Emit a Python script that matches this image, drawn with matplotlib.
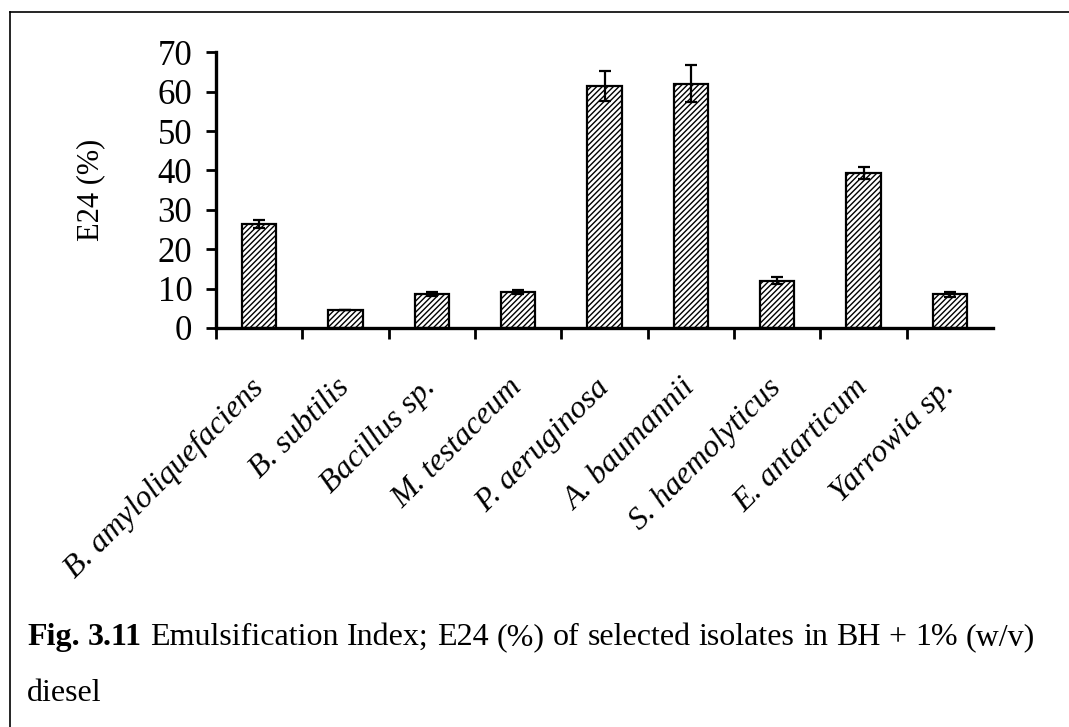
import numpy as np
import matplotlib
matplotlib.use("Agg")
import matplotlib.pyplot as plt
from matplotlib.lines import Line2D

plt.rcParams["font.family"] = ["Liberation Serif", "DejaVu Serif"]
plt.rcParams["hatch.linewidth"] = 1.0
plt.rcParams["hatch.color"] = "#333333"

# Данные
isolates = ["B. amyloliquefaciens", "B. subtilis", "Bacillus sp.", "M. testaceum",
            "P. aeruginosa", "A. baumannii", "S. haemolyticus", "E. antarticum",
            "Yarrowia sp."]
e24 = [26.3, 4.5, 8.6, 9.1, 61.5, 62.0, 12.0, 39.3, 8.5]
e24_err = [1.0, 0.0, 0.6, 0.6, 3.8, 4.7, 0.8, 1.6, 0.6]
yticks = [0, 10, 20, 30, 40, 50, 60, 70]

fig = plt.figure(figsize=(10.69, 7.27), dpi=100)
ax = fig.add_axes([0.202, 0.549, 0.727, 0.379])

x = np.arange(len(isolates))
ax.bar(x, e24, width=0.4, color="white", edgecolor="black", linewidth=1.6,
       hatch="//////", zorder=2)
ax.errorbar(x, e24, yerr=e24_err, fmt="none", ecolor="black", elinewidth=1.6,
            capsize=4, capthick=1.6, zorder=3)

ax.set_xlim(-0.5, len(isolates) - 0.5)
ax.set_ylim(0, 70)
ax.set_yticks(yticks)
ax.tick_params(axis="y", labelsize=25, length=7, width=2, direction="out", pad=10)

# засечки между категориями, подписи по центрам
ax.set_xticks(np.arange(-0.5, len(isolates) - 1, 1.0))
ax.set_xticklabels([])
ax.tick_params(axis="x", which="major", length=8, width=2, direction="out")
ax.set_xticks(x, isolates, minor=True)
ax.tick_params(axis="x", which="minor", length=0, pad=40, labelsize=23)
for lbl in ax.get_xticklabels(minor=True):
    lbl.set_rotation(45)
    lbl.set_ha("right")
    lbl.set_va("center")
    lbl.set_rotation_mode("anchor")
    lbl.set_style("italic")

ax.spines["top"].set_visible(False)
ax.spines["right"].set_visible(False)
ax.spines["left"].set_linewidth(2.4)
ax.spines["bottom"].set_linewidth(2.4)
ax.set_ylabel("E24 (%)", fontsize=22, labelpad=38)

# рамка страницы
fig.add_artist(Line2D([0.0094, 0.0094], [0, 0.984], transform=fig.transFigure,
                      color="black", linewidth=1.2))
fig.add_artist(Line2D([0.0094, 1.0], [0.984, 0.984], transform=fig.transFigure,
                      color="black", linewidth=1.2))

# подпись, выровненная по ширине
words = [("Fig.", "bold"), ("3.11", "bold"), ("Emulsification", "normal"),
         ("Index;", "normal"), ("E24", "normal"), ("(%)", "normal"), ("of", "normal"),
         ("selected", "normal"), ("isolates", "normal"), ("in", "normal"),
         ("BH", "normal"), ("+", "normal"), ("1%", "normal"), ("(w/v)", "normal")]
x0, x1 = 27, 1035
fig.canvas.draw()
renderer = fig.canvas.get_renderer()
texts = []
for w, weight in words:
    t = fig.text(0, 0.1128, w, fontsize=23, fontweight=weight)
    texts.append(t)
widths = [t.get_window_extent(renderer).width for t in texts]
gap = (x1 - x0 - sum(widths)) / (len(words) - 1)
pos = x0
for t, wd in zip(texts, widths):
    t.set_x(pos / 1069)
    pos += wd + gap
fig.text(x0 / 1069, 0.0358, "diesel", fontsize=23)

fig.savefig("out.png", dpi=100)
